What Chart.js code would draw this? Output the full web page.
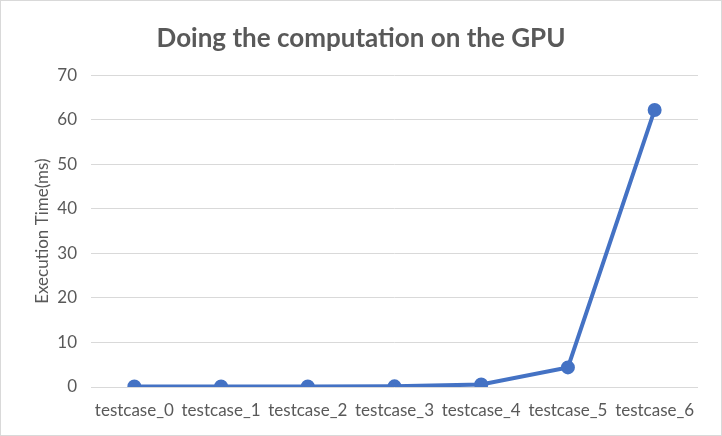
<!DOCTYPE html>
<html>
<head>
<meta charset="utf-8">
<script src="https://cdn.jsdelivr.net/npm/chart.js@4/dist/chart.umd.min.js"></script>
<style>
  html, body { margin: 0; padding: 0; background: #fff; }
  canvas { display: block; }
</style>
</head>
<body>
<canvas id="c" width="722" height="436"></canvas>
<script>
const categories = ["testcase_0", "testcase_1", "testcase_2", "testcase_3", "testcase_4", "testcase_5", "testcase_6"];
const executionTimes = [0.1, 0.1, 0.1, 0.15, 0.55, 4.4, 62.2];
const yTicks = [0, 10, 20, 30, 40, 50, 60, 70];
const chartTitle = "Doing the computation on the GPU";
const yAxisTitle = "Execution Time(ms)";

const FONT = "Lato, 'Open Sans', sans-serif";
const TEXT = "#595959";

const framePlugin = {
  id: "frame",
  beforeDraw(chart) {
    const ctx = chart.ctx;
    ctx.save();
    ctx.fillStyle = "#ffffff";
    ctx.fillRect(0, 0, chart.width, chart.height);
    ctx.strokeStyle = "#d9d9d9";
    ctx.lineWidth = 1;
    ctx.strokeRect(0.5, 0.5, chart.width - 1, chart.height - 1);
    ctx.restore();
  }
};

new Chart(document.getElementById("c"), {
  type: "line",
  data: {
    labels: categories,
    datasets: [{
      data: executionTimes,
      borderColor: "#4472C4",
      backgroundColor: "#4472C4",
      borderWidth: 4,
      pointRadius: 5,
      pointHoverRadius: 5,
      tension: 0,
      fill: false
    }]
  },
  options: {
    responsive: false,
    animation: false,
    devicePixelRatio: 1,
    layout: { padding: 0 },
    plugins: {
      legend: { display: false },
      tooltip: { enabled: false },
      title: {
        display: true,
        text: chartTitle,
        color: TEXT,
        font: { family: FONT, size: 26, weight: "bold", lineHeight: 1.2 },
        padding: { top: 23, bottom: 21 }
      }
    },
    scales: {
      x: {
        type: "category",
        offset: true,
        grid: { display: false, drawTicks: false },
        border: { display: false },
        ticks: {
          color: TEXT,
          font: { family: FONT, size: 17 },
          maxRotation: 0,
          autoSkip: false,
          padding: 13
        },
        afterFit(scale) { scale.height = 49; }
      },
      y: {
        min: 0,
        max: 70,
        afterBuildTicks(scale) { scale.ticks = yTicks.map(v => ({ value: v })); },
        grid: { color: "#d9d9d9", lineWidth: 1, drawTicks: false },
        border: { display: false },
        ticks: {
          color: TEXT,
          font: { family: FONT, size: 17 },
          padding: 14
        },
        title: {
          display: true,
          text: yAxisTitle,
          color: TEXT,
          font: { family: FONT, size: 17 },
          padding: { top: 32, bottom: 0 }
        },
        afterFit(scale) { scale.width = 91; }
      },
      yRight: {
        position: "right",
        min: 0,
        max: 1,
        grid: { display: false, drawTicks: false },
        border: { display: false },
        ticks: { display: false },
        afterFit(scale) { scale.width = 24; }
      }
    }
  },
  plugins: [framePlugin]
});
</script>
</body>
</html>
